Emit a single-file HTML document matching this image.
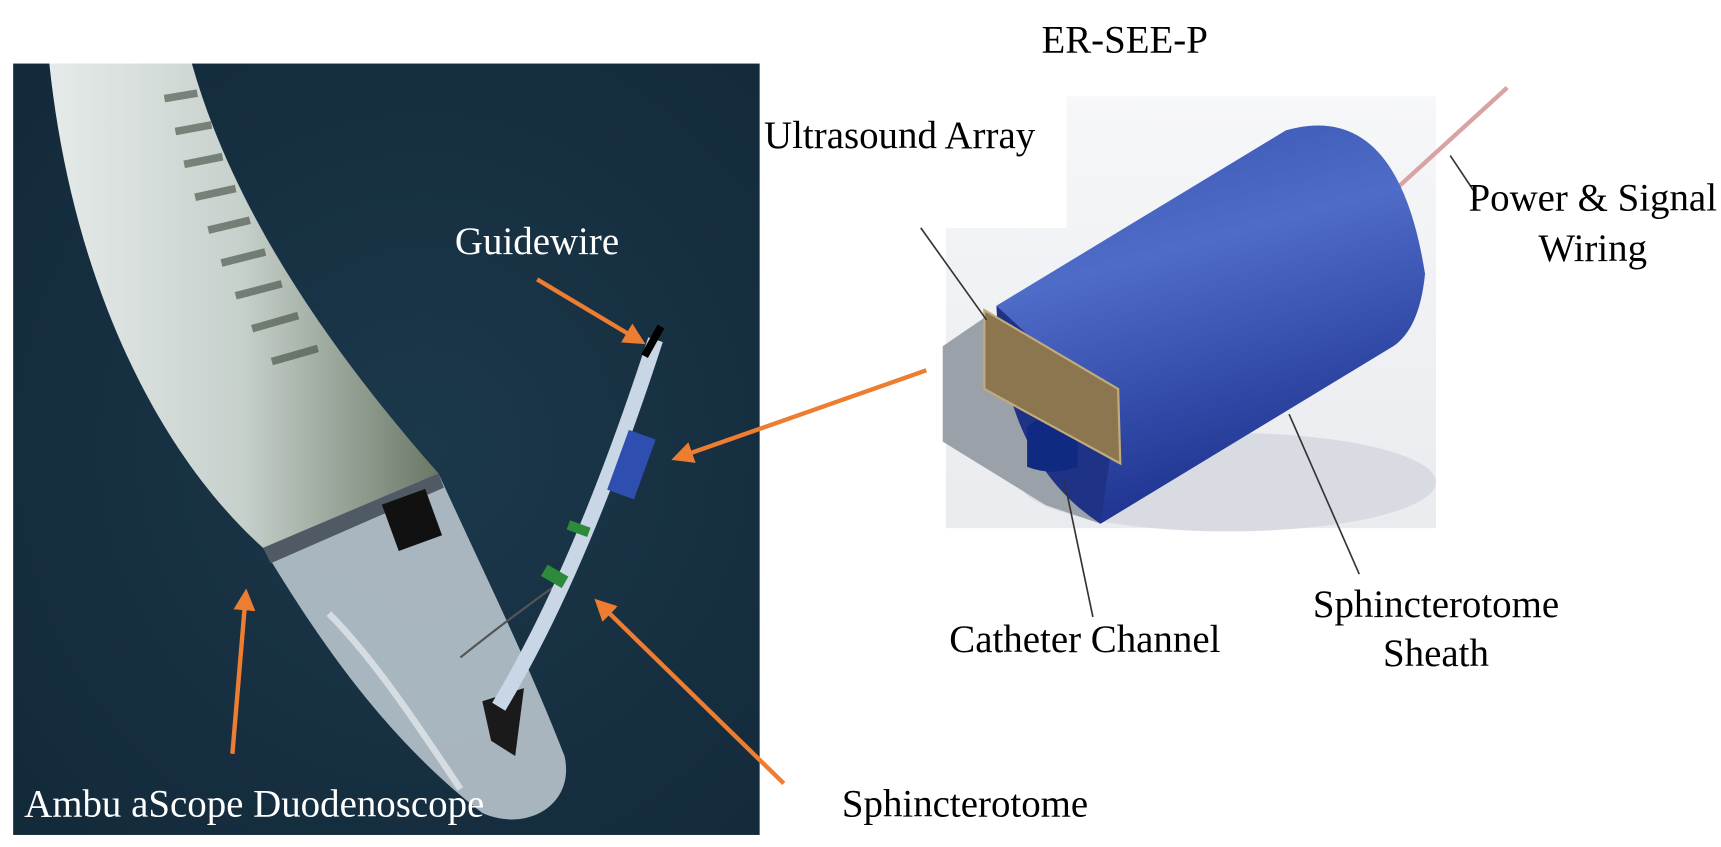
<!DOCTYPE html>
<html><head><meta charset="utf-8"><style>
html,body{margin:0;padding:0;background:#fff;}
svg{display:block;}
text{font-family:"Liberation Serif",serif;font-size:35.5px;}
</style></head><body>
<svg width="1721" height="847" viewBox="0 0 1570 773" preserveAspectRatio="none" xmlns="http://www.w3.org/2000/svg">
<defs>
<radialGradient id="bg" cx="0.55" cy="0.5" r="0.7"><stop offset="0" stop-color="#1b384b"/><stop offset="1" stop-color="#132a3a"/></radialGradient>
<linearGradient id="tube" x1="0" y1="0" x2="1" y2="0"><stop offset="0" stop-color="#e6ebea"/><stop offset="0.5" stop-color="#c6d0cb"/><stop offset="1" stop-color="#6a7866"/></linearGradient>
<linearGradient id="blue" x1="0" y1="0" x2="0.3" y2="1"><stop offset="0" stop-color="#3552b0"/><stop offset="0.4" stop-color="#4f6cc8"/><stop offset="1" stop-color="#1e3390"/></linearGradient>
<linearGradient id="bgr" x1="0" y1="0" x2="0" y2="1"><stop offset="0" stop-color="#f6f7f9"/><stop offset="1" stop-color="#e9ebef"/></linearGradient>
<marker id="ah" markerWidth="5" markerHeight="5" refX="3" refY="2.5" orient="auto"><path d="M0,0 L5,2.5 L0,5 Z" fill="#ed7d31"/></marker>
</defs>
<rect x="12" y="58" width="681" height="704" fill="url(#bg)"/>
<g>
<path d="M45,58 C65,250 140,410 240,500 L400,432 C310,330 215,200 175,58 Z" fill="url(#tube)"/>
<g stroke="#3d4a3e" stroke-width="7" opacity="0.6" fill="none">
<path d="M150,90 l30,-5"/><path d="M160,120 l33,-6"/><path d="M168,150 l35,-7"/><path d="M178,180 l37,-8"/><path d="M190,210 l38,-9"/><path d="M202,240 l40,-10"/><path d="M215,270 l42,-11"/><path d="M230,300 l42,-12"/><path d="M248,330 l42,-12"/>
</g>
<path d="M240,500 L400,432 C440,520 480,600 515,690 C525,735 480,760 440,742 C360,680 300,600 240,500 Z" fill="#b5c1ca" opacity="0.92"/>
<path d="M240,500 L400,432 L405,445 L247,514 Z" fill="#505a64"/>
<path d="M300,560 C340,600 380,660 420,720" stroke="#e8eef2" stroke-width="6" fill="none" opacity="0.7"/>
<rect x="355" y="452" width="42" height="45" fill="#111" transform="rotate(-20 376 475)"/>
<path d="M440,640 L478,628 L470,690 L448,676 Z" fill="#1a1a1a"/>
<path d="M420,600 Q470,560 520,525" stroke="#555" stroke-width="2" fill="none"/>
</g>
<g>
<path d="M455,645 Q530,520 598,310" stroke="#c8d6e6" stroke-width="14" fill="none"/>
<rect x="563" y="395" width="26" height="58" fill="#2f4fb0" transform="rotate(20 576 424)"/>
<rect x="518" y="478" width="20" height="9" fill="#2c8a3a" transform="rotate(20 528 482)"/>
<rect x="495" y="520" width="22" height="12" fill="#2c8a3a" transform="rotate(30 506 526)"/>
<line x1="588" y1="325" x2="603" y2="298" stroke="#000" stroke-width="7"/>
</g>
<g stroke="#ed7d31" stroke-width="4" fill="none">
<line x1="490" y1="255" x2="582" y2="310" marker-end="url(#ah)"/>
<line x1="845" y1="338" x2="620" y2="417" marker-end="url(#ah)"/>
<line x1="212" y1="688" x2="224" y2="545" marker-end="url(#ah)"/>
<line x1="715" y1="715" x2="548" y2="552" marker-end="url(#ah)"/>
</g>
<text x="415" y="232" fill="#fff">Guidewire</text>
<text x="22" y="745" fill="#fff">Ambu aScope Duodenoscope</text>
<text x="768" y="745" fill="#000">Sphincterotome</text>
<g>
<rect x="863" y="88" width="447" height="394" fill="url(#bgr)"/>
<rect x="863" y="88" width="110" height="120" fill="#fff"/>
<ellipse cx="1120" cy="440" rx="190" ry="45" fill="#d8dbe1"/>
<line x1="1274" y1="172" x2="1375" y2="80" stroke="#d9a3a3" stroke-width="4"/>
<path d="M860,316 L898,290 L1004,478 L954,461 L860,403 Z" fill="#9ba1a9"/>
<path d="M909,279 L1173,119 Q1275,90 1300,250 Q1295,300 1271,316 L1004,478 Q920,420 909,279 Z" fill="url(#blue)"/>
<path d="M909,279 Q915,420 1004,478 L1018,380 Z" fill="#1f3386"/>
<path d="M937,390 Q960,370 983,385 L983,426 Q960,435 937,426 Z" fill="#0f2a80"/>
<path d="M898,283 L1020,355 L1022,423 L898,355 Z" fill="#8c7650" stroke="#c2aa7a" stroke-width="2"/>
</g>
<g stroke="#333" stroke-width="1.5">
<line x1="840" y1="208" x2="900" y2="292"/>
<line x1="971" y1="439" x2="997" y2="563"/>
<line x1="1176" y1="378" x2="1240" y2="524"/>
<line x1="1323" y1="142" x2="1345" y2="175"/>
</g>
<text x="1026" y="48" text-anchor="middle">ER-SEE-P</text>
<text x="697" y="135">Ultrasound Array</text>
<text x="1453" y="192" text-anchor="middle">Power &amp; Signal</text>
<text x="1453" y="238" text-anchor="middle">Wiring</text>
<text x="866" y="595">Catheter Channel</text>
<text x="1310" y="563" text-anchor="middle">Sphincterotome</text>
<text x="1310" y="608" text-anchor="middle">Sheath</text>
</svg>
</body></html>
